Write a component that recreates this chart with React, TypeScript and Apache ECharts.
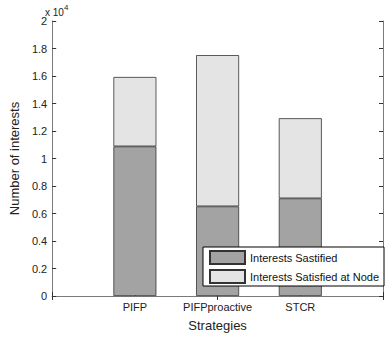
import React, { useEffect, useRef } from "react";
import * as echarts from "echarts";

const categories = ["", "PIFP", "PIFPproactive", "STCR", ""];
const satisfied = [null, 10880, 6520, 7100, null];
const satisfiedAtNode = [null, 5050, 11000, 5830, null];
const seriesNames = ["Interests Sastified", "Interests Satisfied at Node"];

export default function App() {
  const ref = useRef<HTMLDivElement>(null);
  useEffect(() => {
    document.body.style.margin = "0";
    const chart = echarts.init(ref.current!, null, { renderer: "svg" });
    const font = "Liberation Sans, Arial, sans-serif";
    const axisColor = "#7a7a7a";
    chart.setOption({
      animation: false,
      backgroundColor: "#fff",
      textStyle: { fontFamily: font },
      grid: { left: 44, top: 21, right: 0, bottom: 39.5, containLabel: false },
      xAxis: [
        {
          type: "category",
          data: categories,
          boundaryGap: false,
          name: "Strategies",
          nameLocation: "middle",
          nameGap: 23,
          nameTextStyle: { fontSize: 13, color: "#222", fontFamily: font },
          axisLine: { lineStyle: { color: axisColor, width: 1 } },
          axisTick: { inside: true, length: 4, lineStyle: { color: "#333" } },
          axisLabel: { fontSize: 11, color: "#222", margin: 5, interval: 0 },
          splitLine: { show: false },
        },
        {
          type: "category",
          data: categories,
          boundaryGap: false,
          position: "top",
          axisLine: { lineStyle: { color: axisColor, width: 1 } },
          axisTick: { inside: true, length: 4, lineStyle: { color: "#333" } },
          axisLabel: { show: false },
          splitLine: { show: false },
        },
      ],
      yAxis: [
        {
          type: "value",
          min: 0,
          max: 20000,
          interval: 2000,
          name: "Number of interests",
          nameLocation: "middle",
          nameGap: 30,
          nameTextStyle: { fontSize: 13, color: "#222", fontFamily: font },
          axisLine: { show: true, lineStyle: { color: axisColor, width: 1 } },
          axisTick: { show: true, inside: true, length: 4, lineStyle: { color: "#333" } },
          axisLabel: {
            fontSize: 11,
            color: "#222",
            margin: 5,
            formatter: (v: number) => String(+(v / 10000).toFixed(1)),
          },
          splitLine: { show: false },
        },
        {
          type: "value",
          min: 0,
          max: 20000,
          interval: 2000,
          position: "right",
          axisLine: { show: true, lineStyle: { color: axisColor, width: 1 } },
          axisTick: { show: true, inside: true, length: 4, lineStyle: { color: "#333" } },
          axisLabel: { show: false },
          splitLine: { show: false },
        },
      ],
      legend: {
        orient: "vertical",
        left: 203,
        top: 247,
        padding: [3, 5, 2, 6],
        itemGap: 4,
        itemWidth: 35,
        itemHeight: 13,
        borderColor: "#000",
        borderWidth: 1,
        backgroundColor: "#fff",
        icon: "rect",
        textStyle: { fontSize: 11, color: "#111", fontFamily: font },
        data: seriesNames,
      },
      graphic: [
        {
          type: "text",
          left: 45,
          top: 3,
          style: {
            text: "{a|x 10}{s|4}",
            fill: "#222",
            fontFamily: font,
            rich: {
              a: { fontSize: 10, lineHeight: 14, verticalAlign: "bottom", fontFamily: font },
              s: { fontSize: 8, lineHeight: 14, verticalAlign: "top", fontFamily: font },
            },
          },
        },
      ],
      series: [
        {
          name: seriesNames[0],
          type: "bar",
          stack: "total",
          data: satisfied,
          barWidth: 43,
          itemStyle: { color: "#a3a3a3", borderColor: "#333", borderWidth: 0.8 },
        },
        {
          name: seriesNames[1],
          type: "bar",
          stack: "total",
          data: satisfiedAtNode,
          barWidth: 43,
          itemStyle: { color: "#e4e4e4", borderColor: "#333", borderWidth: 0.8 },
        },
      ],
    });
    return () => chart.dispose();
  }, []);
  return (
    <div
      ref={ref}
      style={{ position: "fixed", left: 0, top: 0, width: 386, height: 337 }}
    />
  );
}
